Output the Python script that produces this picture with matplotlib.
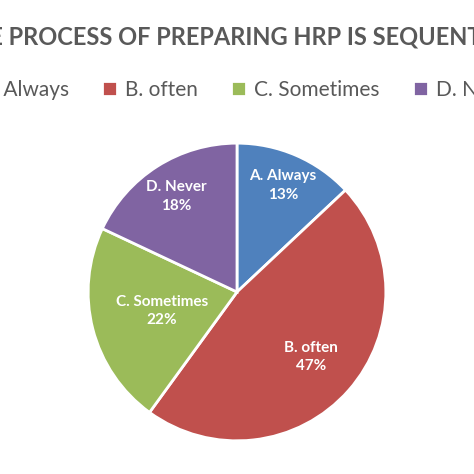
import matplotlib
matplotlib.use("Agg")
from matplotlib import pyplot as plt
import numpy as np

labels = ['A. Always', 'B. often', 'C. Sometimes', 'D. Never']
values = [13, 47, 22, 18]
colors = ['#4F81BD', '#C0504D', '#9BBB59', '#8064A2']
label_dist = [0.78, 0.66, 0.52, 0.76]

plt.rcParams['font.family'] = ['Lato', 'DejaVu Sans']

fig = plt.figure(figsize=(4.74, 4.74), dpi=100)
ax = fig.add_axes([0.5 - 0.314, 0.384 - 0.314, 0.628, 0.628])
wedges, _ = ax.pie(values, colors=colors, startangle=90, counterclock=False,
                   wedgeprops=dict(edgecolor='white', linewidth=2))
ax.set_xlim(-1, 1)
ax.set_ylim(-1, 1)
ax.set_aspect('equal')

for w, lab, v, d in zip(wedges, labels, values, label_dist):
    ang = np.deg2rad((w.theta1 + w.theta2) / 2)
    ax.text(d * np.cos(ang), d * np.sin(ang), '{}\n{}%'.format(lab, v),
            ha='center', va='center', color='white', fontsize=11,
            fontweight='bold', linespacing=1.4)

fig.text(0.5, 1 - 37 / 474, 'THE PROCESS OF PREPARING HRP IS SEQUENTIAL',
         ha='center', va='center', fontsize=17, fontweight='bold', color='#595959')
fig.legend(wedges, labels, loc='center', bbox_to_anchor=(0.5, 1 - 90 / 474),
           ncol=4, frameon=False, fontsize=15, handlelength=0.7, handleheight=0.7,
           columnspacing=1.6, handletextpad=0.4, labelcolor='#595959')

fig.savefig('out.png', dpi=100, facecolor='white')
